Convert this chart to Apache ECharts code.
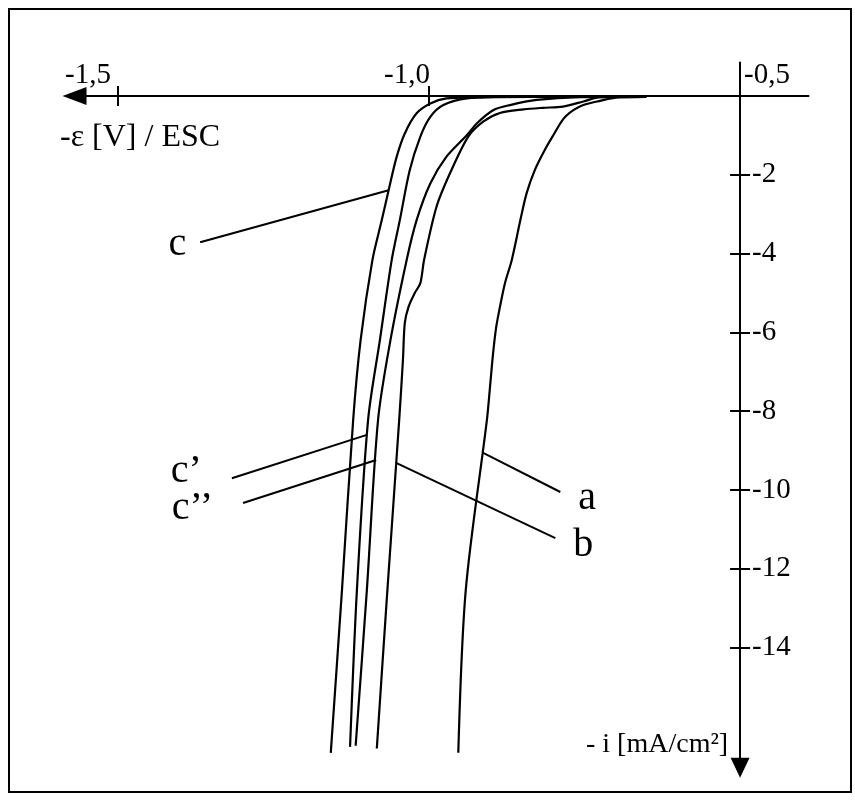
<!DOCTYPE html>
<html>
<head>
<meta charset="utf-8">
<script src="https://cdn.jsdelivr.net/npm/echarts@6/dist/echarts.min.js"></script>
<style>
  html, body { margin: 0; padding: 0; background: #fff; }
  #chart { width: 855px; height: 801px; }
</style>
</head>
<body>
<div id="chart"></div>
<script>
// Cathodic polarization curves: potential -ε (V / ESC) against current density -i (mA/cm²)

// Curve a
const potentialA = [-0.651, -0.693, -0.730, -0.752, -0.768, -0.784, -0.800, -0.814, -0.830, -0.843, -0.852, -0.867, -0.878, -0.886, -0.892, -0.897, -0.902, -0.907, -0.941, -0.953];
const currentA   = [-0.02, -0.03, -0.14, -0.23, -0.36, -0.58, -0.99, -1.37, -1.88, -2.46, -3.06, -4.16, -4.75, -5.35, -5.86, -6.52, -7.38, -8.22, -12.54, -16.67];

// Curve b
const potentialB = [-0.651, -0.725, -0.752, -0.785, -0.817, -0.848, -0.886, -0.913, -0.937, -0.966, -0.988, -1.008, -1.014, -1.023, -1.033, -1.039, -1.042, -1.048, -1.067, -1.084];
const currentB   = [-0.02, -0.03, -0.14, -0.27, -0.30, -0.34, -0.43, -0.65, -1.03, -1.95, -2.81, -4.16, -4.75, -5.00, -5.35, -5.76, -6.70, -8.22, -12.54, -16.56];

// Curve c
const potentialC = [-0.651, -0.789, -0.886, -0.923, -0.972, -0.998, -1.020, -1.039, -1.052, -1.065, -1.076, -1.091, -1.110, -1.122, -1.140, -1.158];
const currentC   = [-0.02, -0.02, -0.02, -0.03, -0.06, -0.19, -0.44, -0.95, -1.54, -2.39, -3.15, -4.16, -6.19, -8.22, -12.54, -16.67];

// Curve c'
const potentialC1 = [-0.651, -0.789, -0.886, -0.939, -0.977, -0.998, -1.014, -1.031, -1.047, -1.060, -1.079, -1.098, -1.116, -1.127];
const currentC1   = [-0.02, -0.02, -0.03, -0.06, -0.23, -0.53, -1.03, -1.88, -3.15, -4.16, -6.19, -8.22, -12.54, -16.52];

// Curve c''
const potentialC2 = [-0.651, -0.757, -0.827, -0.870, -0.897, -0.923, -0.939, -0.972, -0.998, -1.020, -1.036, -1.062, -1.082, -1.100, -1.118];
const currentC2   = [-0.02, -0.03, -0.10, -0.23, -0.36, -0.69, -0.99, -1.54, -2.22, -3.15, -4.16, -6.19, -8.22, -12.54, -16.49];

// Axis ticks
const potentialTicks = [-1.5, -1.0];
const potentialTickLabels = [-1.5, -1.0, -0.5];
const currentTicks = [-2, -4, -6, -8, -10, -12, -14];

// Curve labels and their leader lines (outer end, end on the curve)
const labelNames = ['c', 'c’', 'c’’', 'b', 'a'];
const leaderOuter = [[-1.368, -3.71], [-1.317, -9.70], [-1.299, -10.33], [-0.797, -11.22], [-0.789, -10.05]];
const leaderInner = [[-1.065, -2.39], [-1.100, -8.60], [-1.085, -9.24], [-1.053, -9.31], [-0.913, -9.06]];

const FONT = '"Liberation Serif", "Times New Roman", serif';
const xMin = -1.57, xMax = -0.39, yMin = -17.05, yMax = 0.85;
const gridBox = { left: 74.5, right: 46.5, top: 62.5, bottom: 33.2 };
const gridWidth = 855 - gridBox.left - gridBox.right;
// vertical axis sits at -ε = -0,5 V
const yAxisOffset = -((xMax - (-0.5)) / (xMax - xMin)) * gridWidth;

const zip = (xs, ys) => xs.map((x, i) => [x, ys[i]]);
const curves = [
  zip(potentialC, currentC),
  zip(potentialC1, currentC1),
  zip(potentialC2, currentC2),
  zip(potentialB, currentB),
  zip(potentialA, currentA)
];

const black = '#000';
const axisLineStyle = { color: black, width: 2 };
const tickLabel = { fontFamily: FONT, fontSize: 29, color: black };

const curveSeries = curves.map((pts, i) => ({
  type: 'line',
  name: labelNames[i],
  data: pts,
  xAxisIndex: 0, yAxisIndex: 0,
  smooth: 0.3,
  showSymbol: false,
  lineStyle: { color: black, width: 2.2 },
  z: 3
}));

// label placement: side, gap from the leader end, vertical nudge
const labelSide = ['left', 'left', 'left', 'right', 'right'];
const labelGap = [14, 30, 30, 18, 18];
const labelNudge = [[0, 2], [0, -7], [0, 5], [0, 7], [0, 7]];
const leaderSeries = labelNames.map((name, i) => ({
  type: 'line',
  data: [
    {
      value: leaderOuter[i],
      symbol: 'circle', symbolSize: 0,
      label: {
        show: true,
        position: labelSide[i],
        distance: labelGap[i],
        formatter: name,
        fontFamily: FONT, fontSize: 40, color: black,
        offset: labelNudge[i]
      }
    },
    { value: leaderInner[i], symbol: 'none' }
  ],
  xAxisIndex: 0, yAxisIndex: 0,
  showSymbol: true,
  lineStyle: { color: black, width: 2 },
  z: 4
}));

const chart = echarts.init(document.getElementById('chart'), null, { renderer: 'canvas' });
chart.setOption({
  backgroundColor: '#fff',
  animation: false,
  grid: gridBox,
  xAxis: [
    {
      type: 'value', min: xMin, max: xMax, position: 'top',
      axisLine: { onZero: true, symbol: ['triangle', 'none'], symbolSize: [18, 24], lineStyle: axisLineStyle },
      axisTick: { show: true, customValues: potentialTicks, length: 10, lineStyle: axisLineStyle },
      axisLabel: {
        customValues: potentialTickLabels, margin: -27,
        formatter: v => {
          const s = v.toFixed(1).replace('.', ',');
          if (v > -0.75) return '{r|' + s + '}';
          return v < -1.25 ? '{far|' + s + '}' : '{near|' + s + '}';
        },
        rich: {
          far: Object.assign({ padding: [0, 60, 0, 0] }, tickLabel),
          near: Object.assign({ padding: [0, 44, 0, 0] }, tickLabel),
          r: Object.assign({ padding: [0, 0, 0, 54] }, tickLabel)
        }
      },
      splitLine: { show: false }
    },
    {
      type: 'value', min: xMin, max: xMax, position: 'bottom',
      axisLine: { onZero: true, show: false },
      axisTick: { show: true, customValues: potentialTicks, length: 10, lineStyle: axisLineStyle },
      axisLabel: { show: false },
      splitLine: { show: false }
    }
  ],
  yAxis: [
    {
      type: 'value', min: yMin, max: yMax, position: 'right', offset: yAxisOffset,
      axisLine: { onZero: false, symbol: ['triangle', 'none'], symbolSize: [19, 20], lineStyle: axisLineStyle },
      axisTick: { show: true, customValues: currentTicks, length: 10, lineStyle: axisLineStyle },
      axisLabel: Object.assign({ customValues: currentTicks, margin: 12, formatter: v => String(v) }, tickLabel),
      splitLine: { show: false }
    },
    {
      type: 'value', min: yMin, max: yMax, position: 'right', offset: yAxisOffset,
      axisLine: { onZero: false, show: false },
      axisTick: { show: true, inside: true, customValues: currentTicks, length: 10, lineStyle: axisLineStyle },
      axisLabel: { show: false },
      splitLine: { show: false }
    }
  ],
  graphic: [
    {
      type: 'rect', silent: true, z: 0,
      shape: { x: 9, y: 9, width: 842, height: 783 },
      style: { fill: 'none', stroke: black, lineWidth: 2 }
    },
    {
      type: 'text', left: 60, top: 122, silent: true,
      style: { text: '-ε [V] / ESC', font: '32px ' + FONT, fill: black }
    },
    {
      type: 'text', left: 586, top: 731, silent: true,
      style: { text: '- i [mA/cm²]', font: '28px ' + FONT, fill: black }
    }
  ],
  series: curveSeries.concat(leaderSeries)
});
</script>
</body>
</html>
